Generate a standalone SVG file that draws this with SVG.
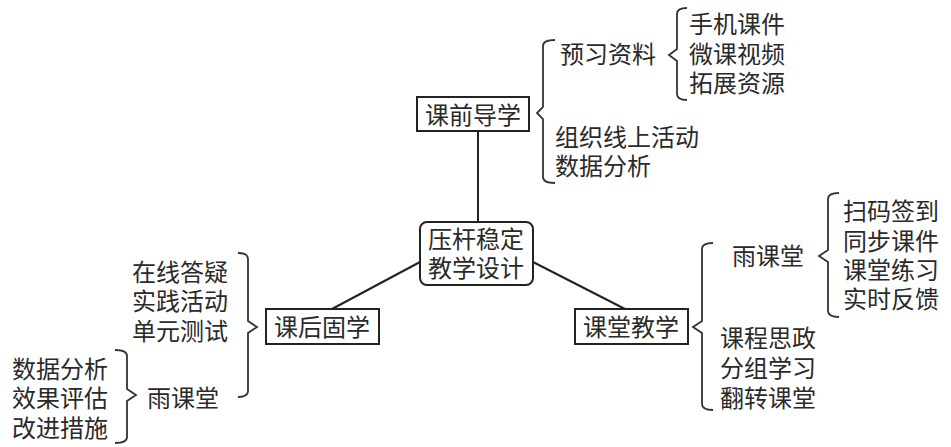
<svg xmlns="http://www.w3.org/2000/svg" width="951" height="447" viewBox="0 0 951 447">
<style>
text{font-family:"Noto Sans CJK SC","Noto Sans",sans-serif;font-size:24px;fill:#2a2a2a}
.box{fill:#fff;stroke:#222;stroke-width:2}
.ln{fill:none;stroke:#222;stroke-width:2}
.br{fill:none;stroke:#333;stroke-width:1.8;stroke-linejoin:miter}
</style>
<rect width="951" height="447" fill="#fff"/>
<g id="connectors">
<line class="ln" x1="478" y1="131" x2="478" y2="222"/>
<line class="ln" x1="420" y1="262" x2="332" y2="309"/>
<line class="ln" x1="533" y1="262" x2="625" y2="309"/>
<path class="br" d="M555,40 Q543,40 543,46 V107 L537,113 L543,119 V177 Q543,183 555,183"/>
<path class="br" d="M687,8 Q677,8 677,14 V49 L669,55 L677,61 V94 Q677,100 687,100"/>
<path class="br" d="M713,243 Q702,243 702,249 V321 L693,327 L702,333 V404 Q702,410 713,410"/>
<path class="br" d="M839,193 Q828,193 828,199 V250 L819,256 L828,262 V311 Q828,317 839,317"/>
<path class="br" d="M238,253 Q248,253 248,259 V321 L257,327 L248,333 V391 Q248,397 238,397"/>
<path class="br" d="M115,350 Q127,350 127,356 V389 L136,395 L127,401 V437 Q127,443 115,443"/>
</g>
<g id="center">
<rect class="box" x="420" y="222" width="113" height="63" rx="7"/>
<text x="428" y="248"><tspan x="428" y="248">压杆稳定</tspan><tspan x="428" y="277">教学设计</tspan></text>
</g>
<g id="pre">
<rect class="box" x="417" y="97" width="112" height="34"/>
<text x="425" y="124">课前导学</text>
</g>
<g id="pre-items">
<text x="560" y="63">预习资料</text>
<text x="689" y="33"><tspan x="689" y="33">手机课件</tspan><tspan x="689" y="63">微课视频</tspan><tspan x="689" y="92">拓展资源</tspan></text>
<text x="555" y="146"><tspan x="555" y="146">组织线上活动</tspan><tspan x="555" y="175">数据分析</tspan></text>
</g>
<g id="post">
<rect class="box" x="266" y="309" width="113" height="35"/>
<text x="274" y="336">课后固学</text>
</g>
<g id="post-items">
<text x="132" y="281"><tspan x="132" y="281">在线答疑</tspan><tspan x="132" y="310">实践活动</tspan><tspan x="132" y="340">单元测试</tspan></text>
<text x="147" y="407">雨课堂</text>
<text x="12" y="378"><tspan x="12" y="378">数据分析</tspan><tspan x="12" y="407">效果评估</tspan><tspan x="12" y="437">改进措施</tspan></text>
</g>
<g id="class">
<rect class="box" x="575" y="309" width="113" height="35"/>
<text x="583" y="336">课堂教学</text>
</g>
<g id="class-items">
<text x="732" y="265">雨课堂</text>
<text x="843" y="220"><tspan x="843" y="220">扫码签到</tspan><tspan x="843" y="250">同步课件</tspan><tspan x="843" y="279">课堂练习</tspan><tspan x="843" y="308">实时反馈</tspan></text>
<text x="720" y="347"><tspan x="720" y="347">课程思政</tspan><tspan x="720" y="377">分组学习</tspan><tspan x="720" y="407">翻转课堂</tspan></text>
</g>
</svg>
